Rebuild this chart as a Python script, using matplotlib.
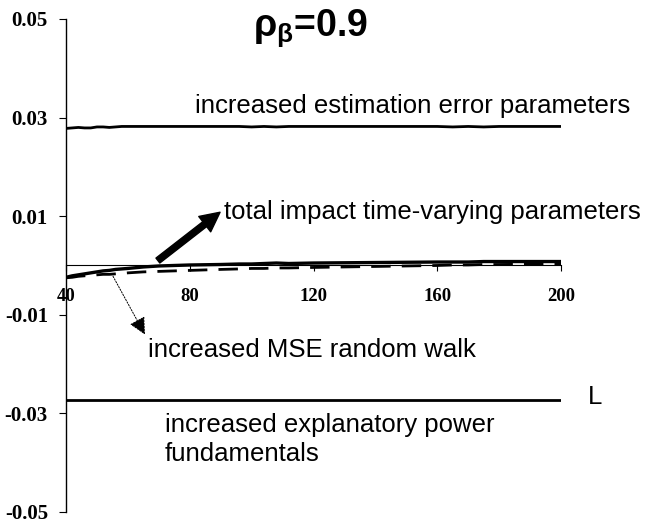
import matplotlib
matplotlib.use("Agg")
from matplotlib import pyplot as plt

plt.rcParams['mathtext.fontset'] = 'custom'
plt.rcParams['mathtext.bf'] = 'Liberation Sans:bold'
plt.rcParams['mathtext.rm'] = 'Liberation Sans'

# window length L
L = [40, 42, 44, 46, 48, 50, 52, 54, 56, 58, 60, 65, 70, 75, 80, 90, 96, 100, 104,
     108, 112, 120, 140, 160, 165, 170, 175, 180, 200]

est_error = [0.0278, 0.0279, 0.0280, 0.0279, 0.0279, 0.0281, 0.0281, 0.0280, 0.0281,
             0.0282, 0.0282, 0.0282, 0.0282, 0.0282, 0.0282, 0.0282, 0.0282, 0.0281,
             0.0282, 0.0281, 0.0282, 0.0282, 0.0282, 0.0282, 0.0281, 0.0282, 0.0281,
             0.0282, 0.0282]
total_impact = [-0.0024, -0.0021, -0.0019, -0.0017, -0.0015, -0.0013, -0.0011, -0.0010,
                -0.0008, -0.0007, -0.0006, -0.0003, -0.0001, 0.0000, 0.0001, 0.0002,
                0.0003, 0.0003, 0.0004, 0.0005, 0.0004, 0.0005, 0.0006, 0.0007, 0.0007,
                0.0007, 0.0008, 0.0008, 0.0008]
mse_rw = [-0.0025, -0.0024, -0.0022, -0.0021, -0.0020, -0.0019, -0.0018, -0.0018,
          -0.0017, -0.0016, -0.0015, -0.0013, -0.0012, -0.0011, -0.0010, -0.0008,
          -0.0007, -0.0006, -0.0006, -0.0005, -0.0005, -0.0004, -0.0002, 0.0000,
          0.0001, 0.0001, 0.0002, 0.0002, 0.0003]
explan_power = [-0.0272] * len(L)

xticks = [40, 80, 120, 160, 200]
yticks = [0.05, 0.03, 0.01, -0.01, -0.03, -0.05]

fig = plt.figure(figsize=(6.64, 5.27), dpi=100)
ax = fig.add_axes([0.0994, 0.0285, 0.7455, 0.9355])

ax.plot(L, est_error, color='black', lw=2)
ax.plot(L, total_impact, color='black', lw=2.4)
ax.plot(L, mse_rw, color='black', lw=2, dashes=(7, 4))
ax.plot(L, explan_power, color='black', lw=2)

ax.set_xlim(40, 200)
ax.set_ylim(-0.05, 0.05)

# axes crossing at zero
ax.spines['bottom'].set_position(('data', 0))
ax.spines['bottom'].set_linewidth(0.8)
ax.spines['left'].set_linewidth(1.0)
ax.spines['top'].set_visible(False)
ax.spines['right'].set_visible(False)

ax.set_xticks(xticks)
ax.set_xticklabels([str(v) for v in xticks], fontfamily='Liberation Serif',
                   fontweight='bold', fontsize=13.5)
ax.set_yticks(yticks)
ax.set_yticklabels(['%.2f' % v for v in yticks], fontfamily='Liberation Serif',
                   fontweight='bold', fontsize=15)
ax.tick_params(axis='x', direction='out', length=4, width=0.8, pad=12)
ax.tick_params(axis='y', direction='out', length=5, width=0.8, pad=8)

txt = dict(fontfamily='Liberation Sans', fontsize=18.5, va='center', ha='left',
           transform=fig.transFigure)
W, H = 664.0, 527.0
fig.text(195 / W, 1 - 106 / H, 'increased estimation error parameters', **txt)
fig.text(224 / W, 1 - 212 / H, 'total impact time-varying parameters', **txt)
fig.text(148 / W, 1 - 350 / H, 'increased MSE random walk', **txt)
fig.text(588 / W, 1 - 397 / H, 'L', **txt)
fig.text(165 / W, 1 - 425 / H, 'increased explanatory power', **txt)
fig.text(165 / W, 1 - 454 / H, 'fundamentals', **txt)

fig.text(253 / W, 1 - 28 / H, r'ρ$_\mathbf{β}$=0.9', fontfamily='Liberation Sans',
         fontweight='bold', fontsize=27, va='center', ha='left')

# arrows
thick_tail = (69.7, 0.0010)
thick_tip = (89.8, 0.0108)
ax.annotate('', xy=thick_tip, xytext=thick_tail,
            arrowprops=dict(width=4.5, headwidth=14, headlength=14, color='black',
                            shrink=0))
dot_tail = (55.2, -0.0022)
dot_tip = (65.5, -0.0140)
ax.annotate('', xy=dot_tip, xytext=dot_tail,
            arrowprops=dict(arrowstyle='-|>', linestyle=(0, (1.5, 1.5)), lw=0.7,
                            color='black', mutation_scale=26, shrinkA=0, shrinkB=0))

fig.savefig('out.png', dpi=100)
